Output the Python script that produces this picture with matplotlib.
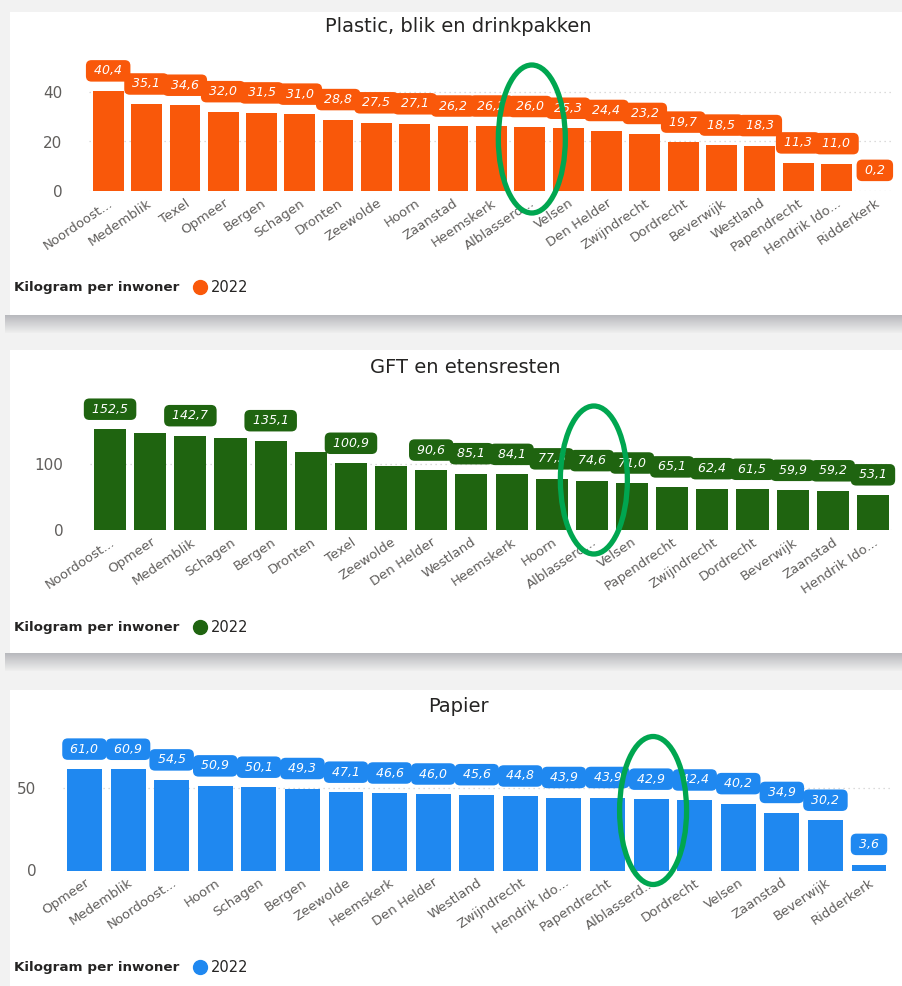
import numpy as np
import matplotlib
matplotlib.use("Agg")
import matplotlib.pyplot as plt
import matplotlib.transforms as mtransforms
from matplotlib.patches import Rectangle, Ellipse

# ── Data ──────────────────────────────────────────────────────────────────────
plastic_names = ["Noordoost...", "Medemblik", "Texel", "Opmeer", "Bergen", "Schagen",
                 "Dronten", "Zeewolde", "Hoorn", "Zaanstad", "Heemskerk", "Alblasserd...",
                 "Velsen", "Den Helder", "Zwijndrecht", "Dordrecht", "Beverwijk",
                 "Westland", "Papendrecht", "Hendrik Ido...", "Ridderkerk"]
plastic_values = [40.4, 35.1, 34.6, 32.0, 31.5, 31.0, 28.8, 27.5, 27.1, 26.2, 26.2,
                  26.0, 25.3, 24.4, 23.2, 19.7, 18.5, 18.3, 11.3, 11.0, 0.2]

gft_names = ["Noordoost...", "Opmeer", "Medemblik", "Schagen", "Bergen", "Dronten",
             "Texel", "Zeewolde", "Den Helder", "Westland", "Heemskerk", "Hoorn",
             "Alblasserd...", "Velsen", "Papendrecht", "Zwijndrecht", "Dordrecht",
             "Beverwijk", "Zaanstad", "Hendrik Ido..."]
gft_values = [152.5, 147.5, 142.7, 140.0, 135.1, 118.5, 100.9, 96.5, 90.6, 85.1, 84.1,
              77.3, 74.6, 71.0, 65.1, 62.4, 61.5, 59.9, 59.2, 53.1]
gft_hidden = ["Opmeer", "Schagen", "Dronten", "Zeewolde"]   # labels Power BI dropped

papier_names = ["Opmeer", "Medemblik", "Noordoost...", "Hoorn", "Schagen", "Bergen",
                "Zeewolde", "Heemskerk", "Den Helder", "Westland", "Zwijndrecht",
                "Hendrik Ido...", "Papendrecht", "Alblasserd...", "Dordrecht", "Velsen",
                "Zaanstad", "Beverwijk", "Ridderkerk"]
papier_values = [61.0, 60.9, 54.5, 50.9, 50.1, 49.3, 47.1, 46.6, 46.0, 45.6, 44.8,
                 43.9, 43.9, 42.9, 42.4, 40.2, 34.9, 30.2, 3.6]

highlight = "Alblasserd..."
legend_title = "Kilogram per inwoner"
series_name = "2022"

# ── Style ─────────────────────────────────────────────────────────────────────
W, H = 902, 986
ORANGE = "#F9580A"
GREEN = "#1F6410"
BLUE = "#1F88F0"
RING = "#00A650"
TXT = "#252423"
TICK = "#605E5C"

fig = plt.figure(figsize=(W / 100, H / 100), dpi=100, facecolor="#f2f2f2")

# background: white report cards with a shadow band between them
bg = fig.add_axes([0, 0, 1, 1], zorder=-5)
bg.set_xlim(0, W)
bg.set_ylim(H, 0)
bg.axis("off")
for y0, y1 in [(12, 315), (350, 653), (690, H)]:
    bg.add_patch(Rectangle((10, y0), W - 10, y1 - y0, fc="white", ec="none"))
grad = np.linspace(0, 1, 40).reshape(-1, 1)
shade = matplotlib.colors.LinearSegmentedColormap.from_list("sh", ["#b8b9bd", "#eeeeee"])
for y0 in [315, 653]:
    bg.imshow(grad, cmap=shade, extent=(5, W, y0 + 18, y0),
              aspect="auto", interpolation="bilinear")


def px_axes(left, right, top, bottom):
    return fig.add_axes([left / W, 1 - bottom / H, (right - left) / W, (bottom - top) / H])


def draw_panel(ax, names, values, color, ymax, yticks, title, title_xy,
               legend_y, hidden=(), ring_dy=50):
    x = np.arange(len(names))
    ax.bar(x, values, width=0.8, color=color, zorder=2)
    ax.set_xlim(-0.5, len(names) - 0.5)
    ax.set_ylim(0, ymax)
    ax.set_yticks(yticks)
    ax.set_xticks(x)
    ax.set_xticklabels(names, rotation=34, ha="right", va="top",
                       rotation_mode="anchor", fontsize=9.5, color=TICK)
    shift = mtransforms.ScaledTranslation(-0.08, 0, fig.dpi_scale_trans)
    for lab in ax.get_xticklabels():
        lab.set_transform(lab.get_transform() + shift)
    ax.tick_params(axis="x", length=0, pad=4)
    ax.tick_params(axis="y", length=0, pad=19, labelsize=11, labelcolor=TICK)
    for s in ax.spines.values():
        s.set_visible(False)
    ax.yaxis.grid(True, linestyle=(0, (1, 3)), color="#d0d0d0", lw=0.9)
    ax.set_axisbelow(True)

    for i, (v, name) in enumerate(zip(values, names)):
        if name in hidden:
            continue
        ax.annotate(f" {v:.1f} ".replace(".", ","), xy=(i, v), xytext=(0, 14.5),
                    textcoords="offset points", ha="center", va="center",
                    color="white", fontsize=9, fontstyle="italic",
                    bbox=dict(boxstyle="round,pad=0.34,rounding_size=0.45",
                              fc=color, ec="none"),
                    annotation_clip=False, zorder=3)

    fig.text(title_xy[0] / W, 1 - title_xy[1] / H, title, ha="center", va="center",
             fontsize=14, color=TXT)

    # legend
    bg.text(14, legend_y, legend_title, ha="left", va="center", fontsize=9.7,
            fontweight="bold", color=TXT)
    bg.plot([200], [legend_y], "o", ms=10, color=color)
    bg.text(211, legend_y, series_name, ha="left", va="center", fontsize=10.5,
            color=TXT)

    # green ring around the highlighted municipality
    fig.canvas.draw()
    idx = names.index(highlight)
    cx, cy = ax.transData.transform((idx, 0))
    ring = Ellipse(((cx + 2) / 100, (cy + ring_dy) / 100), 0.67, 1.48,
                   transform=fig.dpi_scale_trans, fill=False, ec=RING, lw=3.8,
                   zorder=20)
    fig.add_artist(ring)


ax1 = px_axes(89, 894, 191 - 52 * 2.475, 191)
draw_panel(ax1, plastic_names, plastic_values, ORANGE, 52, [0, 20, 40],
           "Plastic, blik en drinkpakken", (458, 27), 287, ring_dy=52)

ax2 = px_axes(90, 893, 530 - 190 * 0.66, 530)
draw_panel(ax2, gft_names, gft_values, GREEN, 190, [0, 100],
           "GFT en etensresten", (465, 367), 627, hidden=gft_hidden, ring_dy=50)

ax3 = px_axes(62.7, 890.8, 870.5 - 80 * 1.66, 870.5)
draw_panel(ax3, papier_names, papier_values, BLUE, 80, [0, 50],
           "Papier", (458, 706), 967, ring_dy=60)

plt.savefig("out.png", dpi=100, facecolor=fig.get_facecolor())
plt.close()
